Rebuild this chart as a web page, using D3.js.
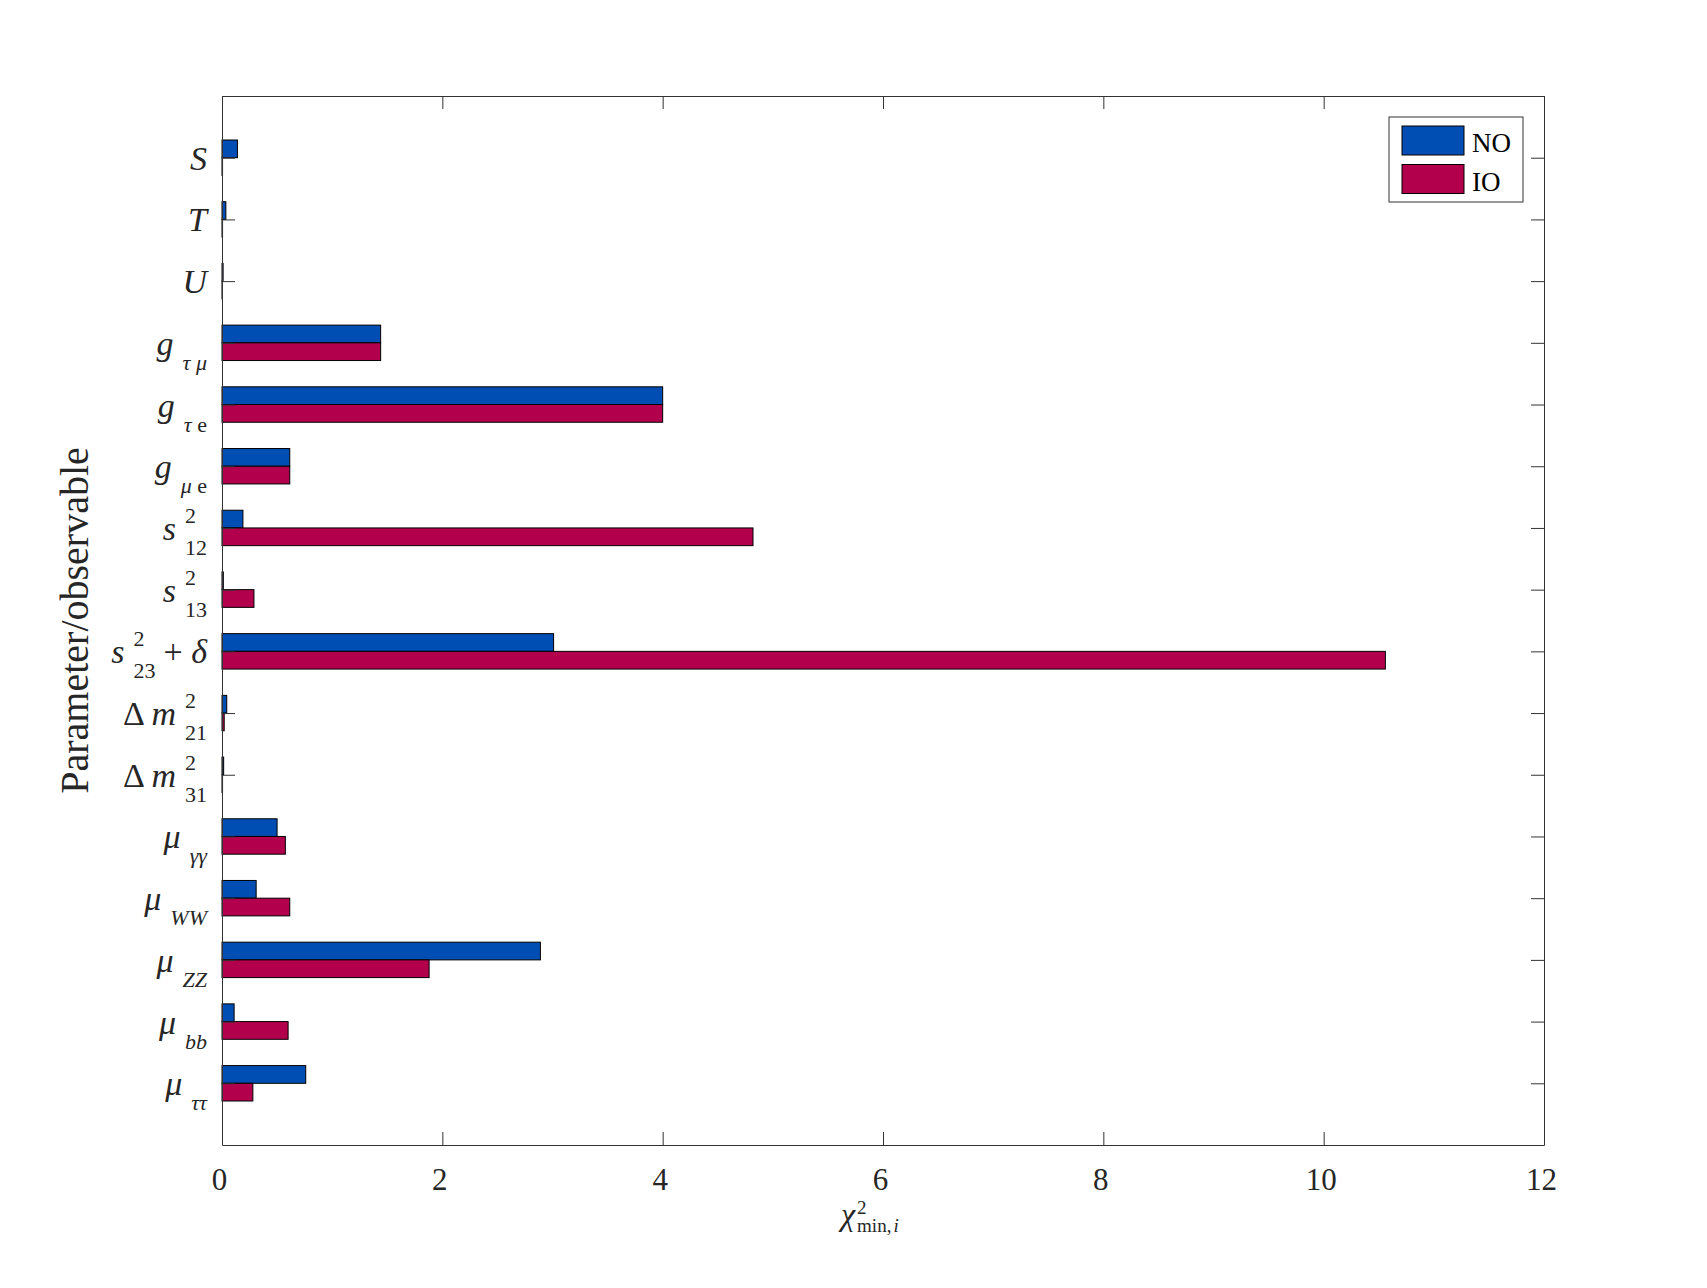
<!DOCTYPE html>
<html>
<head>
<meta charset="utf-8">
<script src="https://cdn.jsdelivr.net/npm/d3@7"></script>
<style>
	body { margin:0; background:#fff; }
	svg { display:block; font-family:"Liberation Serif","Times New Roman",serif; }
</style>
</head>
<body>
<svg width="1707" height="1288"></svg>
<script>
// categories top to bottom, label = base ^sup _sub tail
var categories = ["S","T","U","g_tau_mu","g_tau_e","g_mu_e","s2_12","s2_13","s2_23+delta","dm2_21","dm2_31","mu_gg","mu_WW","mu_ZZ","mu_bb","mu_tautau"];
var labelBase = ["S","T","U","g","g","g","s","s","s","Δ m","Δ m","μ","μ","μ","μ","μ"];
var labelSup  = ["","","","","","","2","2","2","2","2","","","","",""];
var labelSub  = ["","","","τ μ","τ e","μ e","12","13","23","21","31","γγ","WW","ZZ","bb","ττ"];
var labelTail = ["","","","","","","","","+ δ","","","","","","",""];

var noValues = [0.14, 0.035, 0.01, 1.44, 4.00, 0.615, 0.19, 0.012, 3.01, 0.043, 0.015, 0.50, 0.31, 2.89, 0.11, 0.76];
var ioValues = [0.005, 0.005, 0.003, 1.44, 4.00, 0.615, 4.82, 0.29, 10.56, 0.02, 0.005, 0.575, 0.615, 1.88, 0.60, 0.28];

var xTicks = [0,2,4,6,8,10,12];
var seriesNames = ["NO","IO"];
var seriesColors = ["#004DB3","#B3004D"];

window.chi2 = {
	svg : {},
	load:function(){
		var self = this;
		this.svg = d3.select("svg");
		this.x = d3.scaleLinear().domain([0,12]).range([222,1544]);
		this.y = d3.scaleLinear().domain([0,categories.length+1]).range([96,1145]);
		var x = this.x, y = this.y;
		var barH = y(0.287) - y(0);

		var series = [noValues, ioValues];
		series.forEach(function(vals,s){
			self.svg.append('g')
				.attr('class','bars s'+s)
				.selectAll('rect')
				.data(vals)
				.enter().append('rect')
				.attr('x', x(0))
				.attr('y', function(d,i){ return s === 0 ? y(i+1) - barH : y(i+1); })
				.attr('width', function(d){ return x(d) - x(0); })
				.attr('height', barH)
				.attr('fill', seriesColors[s])
				.attr('stroke','#000')
				.attr('stroke-width',1);
		});

		var idx = d3.range(1, categories.length+1);
		var axisColor = '#333';

		var bottom = this.svg.append('g')
			.attr('transform','translate(0,'+y.range()[1]+')')
			.call(d3.axisBottom(x).tickValues(xTicks).tickSizeInner(-13).tickSizeOuter(0).tickPadding(23));
		bottom.selectAll('text')
			.attr('font-size',31)
			.attr('font-family','"Liberation Serif",serif')
			.attr('fill','#262626')
			.attr('x',-3);

		this.svg.append('g')
			.attr('transform','translate(0,'+y.range()[0]+')')
			.call(d3.axisTop(x).tickValues(xTicks).tickSizeInner(-13).tickSizeOuter(0).tickFormat(''));

		this.svg.append('g')
			.attr('transform','translate('+x.range()[0]+',0)')
			.call(d3.axisLeft(y).tickValues(idx).tickSizeInner(-13).tickSizeOuter(0).tickFormat(''));

		this.svg.append('g')
			.attr('transform','translate('+x.range()[1]+',0)')
			.call(d3.axisRight(y).tickValues(idx).tickSizeInner(-13).tickSizeOuter(0).tickFormat(''));

		this.svg.selectAll('.domain, .tick line')
			.attr('stroke',axisColor)
			.attr('stroke-width',1);

		this.labels();
		this.legend();

		// x title: chi^2_{min,i}
		var chi = this.svg.append('text')
			.attr('x',841).attr('y',1225)
			.attr('font-size',32).attr('font-style','italic')
			.attr('fill','#262626')
			.text('χ');
		var sx = 841 + chi.node().getComputedTextLength() + 2;
		this.svg.append('text')
			.attr('x',sx).attr('y',1214)
			.attr('font-size',19).attr('fill','#262626')
			.text('2');
		var sub = this.svg.append('text')
			.attr('x',sx).attr('y',1232)
			.attr('font-size',19).attr('fill','#262626');
		sub.append('tspan').text('min,');
		sub.append('tspan').attr('dx',2).attr('font-style','italic').text('i');

		this.svg.append('text')
			.attr('transform','translate(88,'+((y.range()[0]+y.range()[1])/2)+') rotate(-90)')
			.attr('text-anchor','middle')
			.attr('font-size',40)
			.attr('fill','#262626')
			.text('Parameter/observable');
	},
	runs:function(str){
		var upright = "Δ+e0123456789,";
		var out = [];
		str.split('').forEach(function(c){
			var it = c === ' ' ? (out.length ? out[out.length-1].it : false) : upright.indexOf(c) < 0;
			if(out.length && out[out.length-1].it === it){ out[out.length-1].t += c; }
			else { out.push({t:c, it:it}); }
		});
		return out;
	},
	addText:function(g,str,size,xx,yy,anchor){
		var t = g.append('text')
			.attr('x',xx).attr('y',yy)
			.attr('font-size',size)
			.attr('text-anchor',anchor)
			.attr('fill','#262626')
			.attr('xml:space','preserve');
		this.runs(str).forEach(function(r){
			t.append('tspan')
				.attr('font-style', r.it ? 'italic' : 'normal')
				.text(r.t);
		});
		return t;
	},
	labels:function(){
		var self = this;
		var g = this.svg.append('g').attr('class','ylabels');
		categories.forEach(function(c,i){
			var cy = self.y(i+1);
			var xr = 207;
			if(labelTail[i]){
				var tt = self.addText(g,labelTail[i],34,xr,cy+12,'end');
				xr -= tt.node().getComputedTextLength() + 8;
			}
			if(labelSup[i] || labelSub[i]){
				var sp = self.addText(g,labelSup[i],22,0,cy-5,'start');
				var sb = self.addText(g,labelSub[i],22,0,cy+27,'start');
				var w = Math.max(sp.node().getComputedTextLength(), sb.node().getComputedTextLength());
				var sx = xr - w;
				sp.attr('x',sx);
				sb.attr('x',sx);
				xr = sx - 9;
			}
			self.addText(g,labelBase[i],34,xr,cy+12,'end');
		});
	},
	legend:function(){
		var lg = this.svg.append('g').attr('class','legend');
		lg.append('rect')
			.attr('x',1389).attr('y',117).attr('width',134).attr('height',85)
			.attr('fill','#fff').attr('stroke','#333').attr('stroke-width',1);
		seriesNames.forEach(function(n,i){
			lg.append('rect')
				.attr('x',1402).attr('y',126 + i*38.5)
				.attr('width',62).attr('height',29)
				.attr('fill',seriesColors[i]).attr('stroke','#000').attr('stroke-width',1);
			lg.append('text')
				.attr('x',1472).attr('y',152 + i*39)
				.attr('font-size',27)
				.attr('fill','#000')
				.text(n);
		});
	}
};

window.chi2.load();
</script>
</body>
</html>
